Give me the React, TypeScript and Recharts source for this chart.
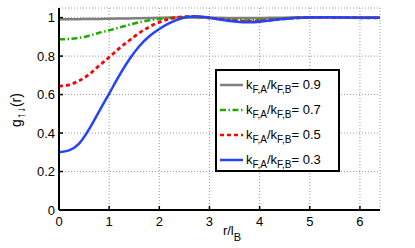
import React from 'react';
import { LineChart, Line, XAxis, YAxis, CartesianGrid, Legend, Label } from 'recharts';

const rValues = [0, 0.2, 0.4, 0.6, 0.8, 1.0, 1.2, 1.4, 1.6, 1.8, 2.0, 2.2, 2.4, 2.6, 2.8, 3.0, 3.2, 3.4, 3.6, 3.8, 4.0, 4.2, 4.4, 4.6, 4.8, 5.0, 5.2, 5.4, 5.6, 5.8, 6.0, 6.2, 6.4];
const g09 = [0.992, 0.992, 0.992, 0.993, 0.993, 0.994, 0.995, 0.996, 0.997, 0.998, 0.999, 1.0, 1.0, 1.001, 1.001, 1.0, 0.999, 0.998, 0.998, 0.998, 0.998, 0.999, 0.999, 1.0, 1.0, 1.0, 1.0, 1.0, 1.0, 1.0, 1.0, 1.0, 1.0];
const g07 = [0.888, 0.889, 0.895, 0.906, 0.921, 0.934, 0.948, 0.963, 0.976, 0.986, 0.993, 0.998, 1.002, 1.003, 1.002, 0.998, 0.993, 0.989, 0.986, 0.986, 0.988, 0.991, 0.995, 0.998, 1.0, 1.001, 1.001, 1.001, 1.0, 1.0, 1.0, 1.0, 1.0];
const g05 = [0.644, 0.65, 0.672, 0.705, 0.75, 0.794, 0.84, 0.881, 0.92, 0.952, 0.976, 0.993, 1.002, 1.006, 1.004, 0.998, 0.992, 0.986, 0.982, 0.981, 0.983, 0.987, 0.992, 0.996, 0.999, 1.001, 1.001, 1.001, 1.0, 1.0, 0.999, 0.999, 0.999];
const g03 = [0.3, 0.31, 0.345, 0.42, 0.513, 0.605, 0.698, 0.782, 0.851, 0.903, 0.941, 0.971, 0.993, 1.005, 1.006, 1.0, 0.99, 0.982, 0.977, 0.976, 0.979, 0.985, 0.991, 0.996, 0.999, 1.001, 1.002, 1.002, 1.001, 1.0, 0.999, 0.999, 0.999];
const ratioLabels = ['0.9', '0.7', '0.5', '0.3'];
const xTicks = [0, 1, 2, 3, 4, 5, 6];
const yTicks = [0, 0.2, 0.4, 0.6, 0.8, 1];

const data = rValues.map((r, i) => ({ r, s0: g09[i], s1: g07[i], s2: g05[i], s3: g03[i] }));

const seriesStyles = [
  { key: 's0', color: '#808080', dash: undefined as string | undefined, width: 2.5 },
  { key: 's1', color: '#1faa00', dash: '6 2.5 1.5 2.5', width: 2.5 },
  { key: 's2', color: '#ff0000', dash: '4 3', width: 2.8 },
  { key: 's3', color: '#2244ff', dash: undefined as string | undefined, width: 2.5 },
];

const FONT = '"Liberation Sans", Arial, sans-serif';

const renderLegend = () => (
  <div
    style={{
      width: 121,
      height: 99,
      border: '2px solid #000',
      background: '#fff',
      fontFamily: FONT,
      fontSize: 13,
      color: '#000',
      boxSizing: 'content-box',
    }}
  >
    {seriesStyles.map((s, i) => (
      <div key={s.key} style={{ height: 25, display: 'flex', alignItems: 'center', position: 'relative', top: 1 }}>
        <svg width={26} height={6} style={{ marginLeft: 3 }}>
          <line x1={0} y1={3} x2={23} y2={3} stroke={s.color} strokeWidth={2.5} strokeDasharray={s.dash} />
        </svg>
        <span style={{ whiteSpace: 'nowrap', lineHeight: '13px' }}>
          k<sub style={{ fontSize: 10, verticalAlign: '-4px', lineHeight: 0 }}>F,A</sub>/k
          <sub style={{ fontSize: 10, verticalAlign: '-4px', lineHeight: 0 }}>F,B</sub>= {ratioLabels[i]}
        </span>
      </div>
    ))}
  </div>
);

const YLabel = () => (
  <text
    x={21}
    y={110}
    transform="rotate(-90, 21, 110)"
    textAnchor="middle"
    fontFamily={FONT}
    fontSize={14}
    fill="#000"
  >
    g
    <tspan dy={4} fontSize={12}>↑↓</tspan>
    <tspan dy={-4}>(r)</tspan>
  </text>
);

const XLabel = () => (
  <text x={232} y={235} textAnchor="middle" fontFamily={FONT} fontSize={13} fill="#000">
    r/l
    <tspan dy={6} fontSize={11}>B</tspan>
  </text>
);

export default function App() {
  return (
    <div style={{ position: 'absolute', left: 0, top: 0, background: '#fff' }}>
      <LineChart
        width={415}
        height={248}
        data={data}
        margin={{ top: 8, right: 35, bottom: 0, left: 0 }}
        style={{ fontFamily: FONT }}
      >
        <CartesianGrid stroke="#9a9a9a" strokeDasharray="1 2" strokeWidth={1} />
        <XAxis
          dataKey="r"
          type="number"
          domain={[0, 6.4]}
          ticks={xTicks}
          height={38}
          tickSize={-4}
          tickMargin={11}
          axisLine={{ stroke: '#000', strokeWidth: 2 }}
          tickLine={{ stroke: '#000', strokeWidth: 1.5 }}
          tick={{ fill: '#000', fontSize: 13, fontFamily: FONT }}
          allowDataOverflow
        >
          <Label content={<XLabel />} />
        </XAxis>
        <XAxis
          xAxisId="top"
          orientation="top"
          dataKey="r"
          type="number"
          domain={[0, 6.4]}
          ticks={xTicks}
          height={0}
          tickSize={-4}
          tickFormatter={() => ''}
          axisLine={{ stroke: '#000', strokeWidth: 2 }}
          tickLine={{ stroke: '#000', strokeWidth: 1.5 }}
          allowDataOverflow
        />
        <YAxis
          type="number"
          domain={[0, 1.05]}
          ticks={yTicks}
          width={59}
          tickSize={-4}
          tickMargin={8}
          axisLine={{ stroke: '#000', strokeWidth: 2 }}
          tickLine={{ stroke: '#000', strokeWidth: 1.5 }}
          tick={{ fill: '#000', fontSize: 13, fontFamily: FONT }}
          allowDataOverflow
        >
          <Label content={<YLabel />} />
        </YAxis>
        <YAxis
          yAxisId="right"
          orientation="right"
          type="number"
          domain={[0, 1.05]}
          ticks={yTicks}
          width={0}
          tickSize={-4}
          tickFormatter={() => ''}
          axisLine={{ stroke: '#000', strokeWidth: 2 }}
          tickLine={{ stroke: '#000', strokeWidth: 1.5 }}
          allowDataOverflow
        />
        {seriesStyles.map((s) => (
          <Line
            key={s.key}
            dataKey={s.key}
            type="natural"
            stroke={s.color}
            strokeWidth={s.width}
            strokeDasharray={s.dash}
            dot={false}
            isAnimationActive={false}
          />
        ))}
        <Legend
          layout="vertical"
          align="center"
          verticalAlign="middle"
          content={renderLegend}
          wrapperStyle={{ position: 'absolute', left: 215, top: 69, width: 125, height: 103 }}
        />
      </LineChart>
    </div>
  );
}
